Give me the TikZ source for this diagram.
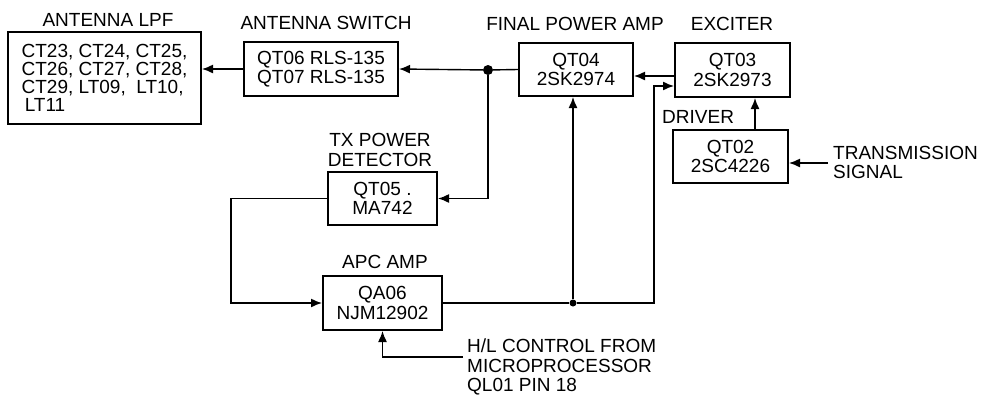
\documentclass[tikz,border=0pt]{standalone}
\usepackage{fontspec}
\setmainfont{Liberation Sans}
\usetikzlibrary{arrows.meta,positioning,calc}

\begin{document}
\begin{tikzpicture}[x=1pt, y=-1pt,
  every node/.style={font=\fontsize{19}{19.5}\selectfont, inner sep=0pt},
  blk/.style={draw, line width=2pt, align=center},
  wire/.style={line width=1.4pt},
  arr/.style={wire, -{Latex[length=11pt,width=9pt]}},
  jdot/.style={circle, fill, inner sep=0pt, minimum size=#1}]
  \useasboundingbox (0,0) rectangle (984,394);

  % Blocks
  \node[blk, minimum width=193, minimum height=92, align=left] (lpf) at (104.5,78)
    {CT23, CT24, CT25,\\[-1.5pt]CT26, CT27, CT28,\\[-1.5pt]CT29, LT09, \ LT10,\\[-1.5pt]\,LT11};
  \node[blk, minimum width=154, minimum height=54] (sw) at (321,69) {QT06 RLS-135\\QT07 RLS-135};
  \node[blk, minimum width=114, minimum height=53] (fpa) at (576,69.5) {QT04\\2SK2974};
  \node[blk, minimum width=115, minimum height=54] (exc) at (732.5,70) {QT03\\2SK2973};
  \node[blk, minimum width=115, minimum height=53] (drv) at (730.5,156.5) {QT02\\2SC4226};
  \node[blk, minimum width=109, minimum height=53] (det) at (382.5,198.5) {QT05 .\\MA742};
  \node[blk, minimum width=119, minimum height=54] (apc) at (382.5,303) {QA06\\NJM12902};

  % Block titles
  \node (lpflbl) at (108,20) {ANTENNA LPF};
  \node (swlbl) at (326,23) {ANTENNA SWITCH};
  \node (fpalbl) at (575,24) {FINAL POWER AMP};
  \node (exclbl) at (732,24) {EXCITER};
  \node[anchor=west] (drvlbl) at (662,117) {DRIVER};
  \node[align=center] (detlbl) at (380,150) {TX POWER\\DETECTOR};
  \node (apclbl) at (385,262) {APC AMP};
  \node[anchor=west, align=left] (txlbl) at (833,162.5) {TRANSMISSION\\SIGNAL};
  \node[anchor=west, align=left] (hllbl) at (467,367) {H/L CONTROL FROM\\MICROPROCESSOR\\QL01 PIN 18};

  % Junctions and turning points
  \node[jdot=10pt] (j1) at (488,70) {};
  \node[jdot=7pt] (j2) at (573,303) {};
  \coordinate (lft) at (231,0);
  \coordinate (rt) at (654,0);
  \coordinate (excin) at ($(exc.west)+(0,16)$);
  \coordinate (excout) at ($(exc.west)+(0,6)$);
  \coordinate (drvout) at ($(drv.north)+(24.5,0)$);
  \coordinate (txin) at (828,163);
  \coordinate (hlin) at (463,357);

  % Signal path
  \draw[wire] (fpa.west) -- (j1);
  \draw[arr] (j1) -- (sw.east);
  \draw[arr] (sw.west) -- (sw.west -| lpf.east);
  \draw[arr] (excout) -- (excout -| fpa.east);
  \draw[arr] (drvout) -- (drvout |- exc.south);
  \draw[arr] (txin) -- (txin -| drv.east);

  % APC loop
  \draw[arr] (j1) |- (det.east);
  \draw[arr] (det.west) -- (det.west -| lft) |- (apc.west);
  \draw[wire] (apc.east) -- (j2);
  \draw[arr] (j2) -- (j2 |- fpa.south);
  \draw[arr] (j2) -| (rt |- excin) -- (excin);
  \draw[arr] (hlin) -| (apc.south);
\end{tikzpicture}
\end{document}
